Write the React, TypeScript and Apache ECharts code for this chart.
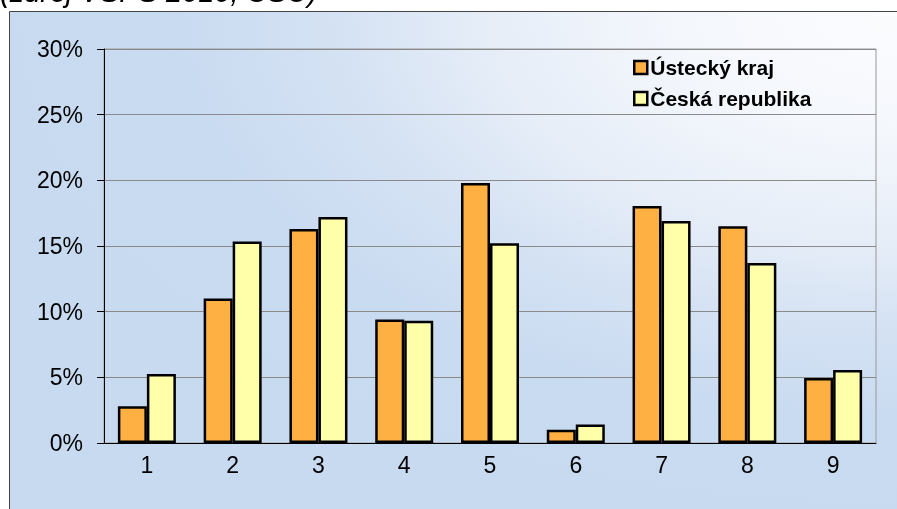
import React, { useEffect, useRef } from "react";
import * as echarts from "echarts";

const categories = ["1", "2", "3", "4", "5", "6", "7", "8", "9"];
const usteckyKraj = [2.8, 11.0, 16.3, 9.4, 19.8, 1.0, 18.05, 16.5, 4.95];
const ceskaRepublika = [5.25, 15.35, 17.2, 9.3, 15.2, 1.4, 16.9, 13.7, 5.55];
const seriesNames = ["Ústecký kraj", "Česká republika"];
const sourceText = "(zdroj VŠPS 2010, ČSÚ)";

export default function App() {
  const ref = useRef<HTMLDivElement>(null);
  useEffect(() => {
    if (!ref.current) return;
    const chart = echarts.init(ref.current, null, { renderer: "svg" });
    const font = "Arial, 'Liberation Sans', sans-serif";
    const bgW = 888;
    const bgH = 498;
    chart.setOption({
      animation: false,
      graphic: [
        {
          type: "rect",
          z: -10,
          silent: true,
          x: 9.5,
          y: 11.5,
          scaleY: bgH / bgW,
          shape: { x: 0, y: 0, width: bgW, height: bgW },
          style: {
            fill: new echarts.graphic.RadialGradient(1, 0, 1, [
              { offset: 0, color: "#fbfcfe" },
              { offset: 0.25, color: "#f4f7fc" },
              { offset: 0.45, color: "#e7eef8" },
              { offset: 0.65, color: "#d3e1f3" },
              { offset: 0.82, color: "#c9dbf1" },
              { offset: 1, color: "#c7daf0" },
            ]),
          },
        },
        {
          type: "rect",
          z: -9,
          silent: true,
          shape: { x: 9.5, y: 11.5, width: 900, height: 520 },
          style: { fill: "none", stroke: "#444", lineWidth: 1 },
        },
        {
          type: "text",
          x: 0,
          y: 6,
          style: {
            text: sourceText,
            font: `italic 29px ${font}`,
            fill: "#000",
            verticalAlign: "bottom",
          },
        },
      ],
      grid: {
        left: 104,
        right: 21,
        top: 49,
        bottom: 66,
        show: true,
        borderColor: "#999",
        borderWidth: 1,
        backgroundColor: "transparent",
      },
      legend: {
        orient: "vertical",
        left: 628,
        top: 52,
        icon: "rect",
        itemWidth: 13,
        itemHeight: 13,
        itemGap: 10,
        data: seriesNames,
        itemStyle: { borderWidth: 2.5, borderColor: "#000" },
        textStyle: {
          fontFamily: font,
          fontWeight: "bold",
          fontSize: 21,
          color: "#000",
          padding: [0, 0, 0, -2],
        },
      },
      xAxis: {
        type: "category",
        data: categories,
        axisLine: { lineStyle: { color: "#000", width: 1 } },
        axisTick: { length: 6, lineStyle: { color: "#000" } },
        axisLabel: {
          fontFamily: font,
          fontSize: 23,
          color: "#000",
          margin: 10,
        },
      },
      yAxis: {
        type: "value",
        min: 0,
        max: 30,
        interval: 5,
        axisLine: { show: true, lineStyle: { color: "#000", width: 1 } },
        axisTick: { show: true, length: 7, lineStyle: { color: "#000" } },
        axisLabel: {
          formatter: "{value}%",
          fontFamily: font,
          fontSize: 23,
          color: "#000",
          margin: 21,
        },
        splitLine: { lineStyle: { color: "#8a8a8a", width: 1 } },
      },
      series: [
        {
          name: seriesNames[0],
          type: "bar",
          data: usteckyKraj,
          barWidth: 29,
          barGap: "0%",
          itemStyle: { color: "#ffb042", borderColor: "#000", borderWidth: 2.5 },
        },
        {
          name: seriesNames[1],
          type: "bar",
          data: ceskaRepublika,
          barWidth: 29,
          barGap: "0%",
          itemStyle: { color: "#ffffaa", borderColor: "#000", borderWidth: 2.5 },
        },
      ],
    });
    return () => chart.dispose();
  }, []);
  return (
    <div
      ref={ref}
      style={{ position: "fixed", left: 0, top: 0, width: 897, height: 509 }}
    />
  );
}
